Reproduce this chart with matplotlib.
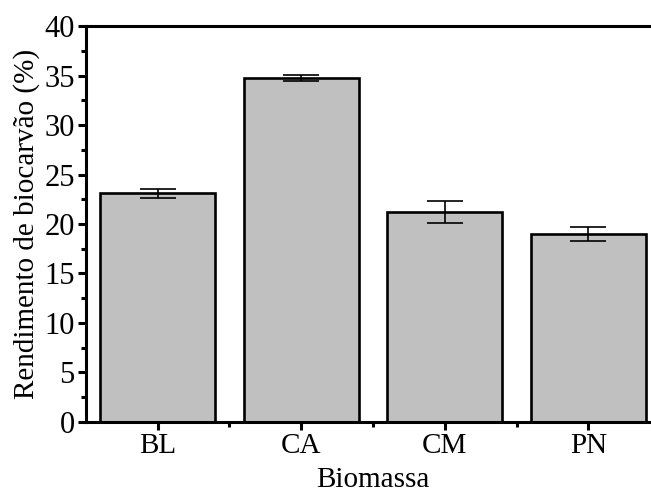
import matplotlib
matplotlib.use('Agg')
import matplotlib.pyplot as plt
from matplotlib.ticker import MultipleLocator, FixedLocator

# dados do rendimento de biocarvao
biomassa = ['BL', 'CA', 'CM', 'PN']
rendimento = [23.1, 34.8, 21.2, 19.0]
erro = [0.45, 0.3, 1.1, 0.7]

plt.rcParams['font.family'] = ['Liberation Serif', 'DejaVu Serif']

fig = plt.figure(figsize=(6.51, 4.94), dpi=100)
ax = fig.add_axes([0.132, 0.146, 0.882, 0.801])

x = range(len(biomassa))
ax.bar(x, rendimento, width=0.8, color='#c0c0c0', edgecolor='black', linewidth=1.9, zorder=2)
ax.errorbar(x, rendimento, yerr=erro, fmt='none', ecolor='black', elinewidth=1.2,
            capsize=13, capthick=1.2, zorder=3)

ax.set_xlim(-0.5, 3.5)
ax.set_ylim(0, 40)
ax.set_xticks(list(x))
ax.set_xticklabels(biomassa)
ax.xaxis.set_minor_locator(FixedLocator([0.5, 1.5, 2.5]))
ax.yaxis.set_major_locator(MultipleLocator(5))
ax.yaxis.set_minor_locator(MultipleLocator(2.5))

for s in ax.spines.values():
    s.set_linewidth(2.2)

ax.tick_params(which='major', direction='out', length=6, width=2.2, labelsize=21, pad=2)
ax.tick_params(axis='y', which='major', labelsize=22)
ax.tick_params(which='minor', direction='out', length=3.5, width=2.2)
ax.tick_params(top=False, right=False, which='both')

ax.set_xlabel('Biomassa', fontsize=21, labelpad=6)
ax.set_ylabel('Rendimento de biocarvão (%)', fontsize=21, labelpad=3)

fig.savefig('out.png', dpi=100)
